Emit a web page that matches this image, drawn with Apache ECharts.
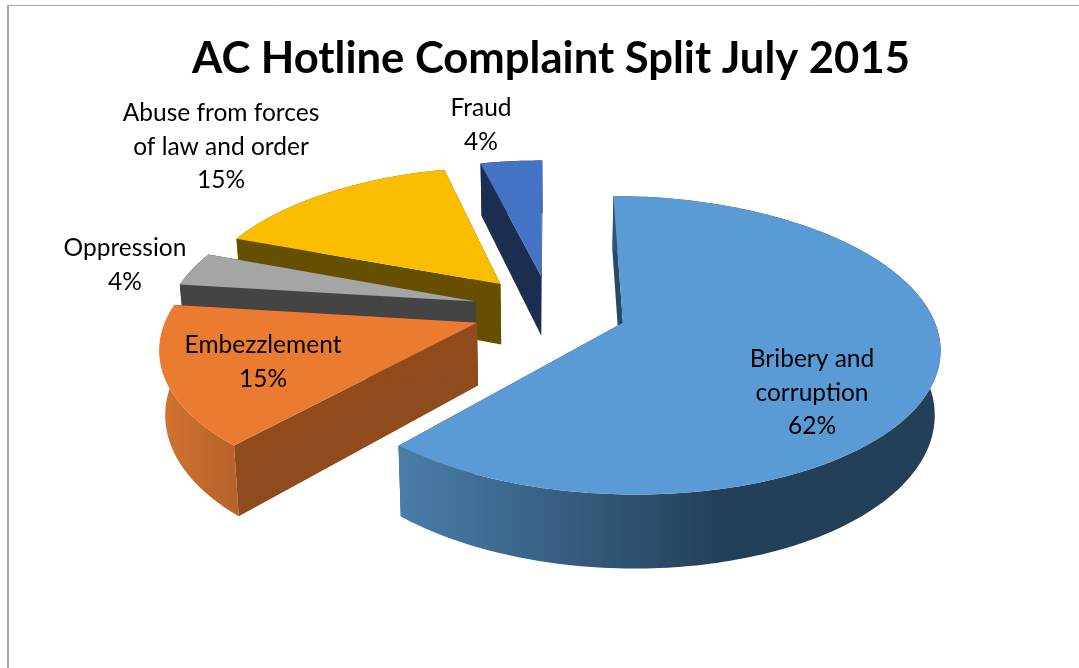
<!DOCTYPE html>
<html>
<head>
<meta charset="utf-8">
<title>AC Hotline Complaint Split July 2015</title>
<script src="https://cdn.jsdelivr.net/npm/echarts@6/dist/echarts.min.js"></script>
<style>
html,body{margin:0;padding:0;background:#fff;}
#chart{width:1079px;height:668px;}
</style>
</head>
<body>
<div id="chart"></div>
<script>
var titleText = "AC Hotline Complaint Split July 2015";
var categories = ["Bribery and\ncorruption", "Embezzlement", "Oppression", "Abuse from forces\nof law and order", "Fraud"];
var values = [61.5, 15.4, 3.8, 15.4, 3.8];

// look of each slice, same order as categories
var topColors = ["#5B9BD5", "#EB7B30", "#A5A5A5", "#FBBD00", "#4472C4"];
var sideColors = ["#254A66", "#8F4B1C", "#444444", "#665000", "#1B2D50"];
var rimColors = [
    [[0, "#4A7DAA"], [0.6, "#243F58"], [1, "#243F58"]],
    [[0, "#D27330"], [1, "#B5622A"]],
    [[0, "#444444"], [1, "#444444"]],
    [[0, "#665000"], [1, "#665000"]],
    [[0, "#1B2D50"], [1, "#1B2D50"]]
];
var labelPos = [[812, 393], [263, 362], [125, 265], [221, 147], [481, 125]];

// tilted pie: plane units are pie radii, k is the perspective
var cx = 550, cy = 310, rx = 308, ry = 142, k = 0.149;
var explode = 0.25, thickness = 62, shrink = 0.985;

var total = 0;
for (var i = 0; i < values.length; i++) total += values[i];

function project(X, Z, low) {
    var s = 1 / (1 + k * Z);
    var x = cx + X * rx * s;
    var y = cy - Z * ry * s;
    if (low) {
        x = cx + (x - cx) * shrink;
        y += thickness * s;
    }
    return [x, y];
}

function renderSlice(params, api) {
    var idx = api.value(0);
    var start = 0;
    for (var i = 0; i < idx; i++) start += values[i];
    var a0 = start / total * 2 * Math.PI;
    var a1 = (start + api.value(1)) / total * 2 * Math.PI;
    var mid = (a0 + a1) / 2;
    var ox = explode * Math.sin(mid), oz = explode * Math.cos(mid);

    var rimTop = [], rimLow = [];
    var steps = Math.ceil((a1 - a0) / 0.02);
    for (var j = 0; j <= steps; j++) {
        var a = a0 + (a1 - a0) * j / steps;
        rimTop.push(project(ox + Math.sin(a), oz + Math.cos(a), false));
        rimLow.push(project(ox + Math.sin(a), oz + Math.cos(a), true));
    }
    var apexTop = project(ox, oz, false);
    var apexLow = project(ox, oz, true);
    var last = rimTop.length - 1;

    function poly(points, fill) {
        return {type: "polygon", shape: {points: points}, style: {fill: fill}};
    }
    var rimFill = new echarts.graphic.LinearGradient(0, 0, 1, 0, rimColors[idx].map(function (c) {
        return {offset: c[0], color: c[1]};
    }));
    var children = [
        poly([apexTop, rimTop[0], rimLow[0], apexLow], sideColors[idx]),
        poly([apexTop, rimTop[last], rimLow[last], apexLow], sideColors[idx]),
        poly(rimTop.concat(rimLow.slice().reverse()), rimFill),
        poly([apexTop].concat(rimTop), topColors[idx])
    ];
    children.push({
        type: "text",
        x: labelPos[idx][0],
        y: labelPos[idx][1],
        style: {
            text: categories[idx] + "\n" + Math.round(api.value(1)) + "%",
            fill: "#000",
            font: "24.5px Lato",
            lineHeight: 33.5,
            align: "center",
            verticalAlign: "middle"
        }
    });
    return {type: "group", children: children};
}

// back slices first so the front ones paint over them
var drawOrder = [4, 3, 2, 1, 0];
var sliceData = drawOrder.map(function (i) {
    return {name: categories[i], value: [i, values[i]]};
});

var chart = echarts.init(document.getElementById("chart"));
chart.setOption({
    animation: false,
    backgroundColor: "#fff",
    title: {
        text: titleText,
        left: 546,
        top: 32,
        textAlign: "center",
        textStyle: {fontFamily: "Lato", fontWeight: "bold", fontSize: 43.6, color: "#000"}
    },
    graphic: [
        {type: "line", shape: {x1: 8, y1: 5.5, x2: 1079, y2: 5.5}, style: {stroke: "#A6A6A6", lineWidth: 1}},
        {type: "line", shape: {x1: 8, y1: 5, x2: 8, y2: 668}, style: {stroke: "#A6A6A6", lineWidth: 2}}
    ],
    series: [{
        type: "custom",
        coordinateSystem: "none",
        renderItem: renderSlice,
        data: sliceData
    }]
});
</script>
</body>
</html>
